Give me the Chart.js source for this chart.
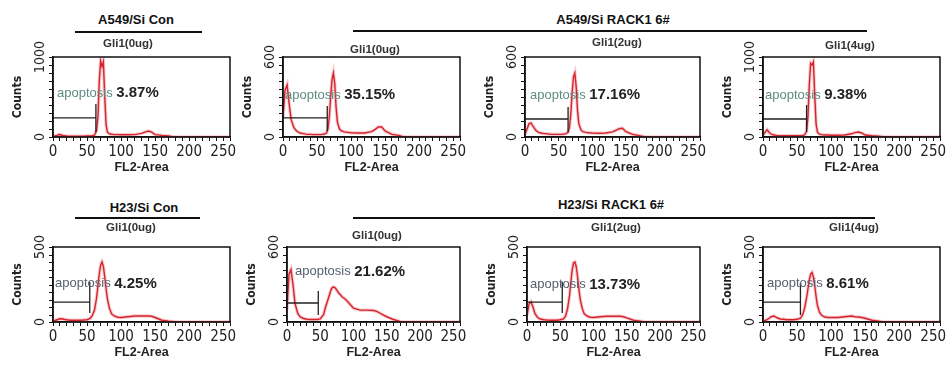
<!DOCTYPE html>
<html>
<head>
<meta charset="utf-8">
<script src="https://cdn.jsdelivr.net/npm/chart.js@4.4.0/dist/chart.umd.min.js"></script>
<style>
  body { margin: 0; background: #fff; width: 951px; height: 372px; position: relative; overflow: hidden;
         font-family: 'Liberation Sans', Arial, sans-serif; }
  canvas { position: absolute; }
  .t { position: absolute; transform: translate(-50%, -50%); white-space: nowrap; font-weight: bold; color: #111; }
  .rule { position: absolute; height: 2px; background: #111; }
</style>
</head>
<body>
<script>
// FL2-Area channels shared by all histograms
const channels = [0, 3, 6, 9, 12, 16, 20, 25, 30, 35, 40, 45, 50, 55, 58, 61, 64, 66, 68, 70, 72, 74, 76, 78, 80,
  83, 86, 90, 95, 100, 110, 120, 130, 135, 140, 145, 150, 160, 170, 175, 180, 200, 230, 260];

// counts per channel, one array per histogram
const a549Con = [5, 15, 20, 30, 25, 15, 12, 10, 10, 10, 10, 10, 12, 12, 15, 25, 80, 250, 700, 950, 880, 940, 500, 150, 60,
  40, 35, 30, 30, 28, 28, 30, 45, 60, 75, 60, 30, 20, 12, 5, 2, 0, 0, 0];
const a549Rack0 = [150, 350, 390, 250, 130, 70, 45, 30, 25, 20, 20, 18, 18, 18, 20, 22, 30, 60, 150, 300, 430, 480, 400, 220, 110,
  60, 45, 38, 35, 32, 30, 30, 40, 55, 75, 75, 45, 20, 12, 5, 0, 0, 0, 0];
const a549Rack2 = [20, 60, 100, 105, 80, 50, 35, 28, 25, 22, 20, 20, 20, 20, 22, 25, 35, 70, 170, 330, 450, 480, 380, 200, 100,
  55, 40, 35, 32, 30, 28, 30, 38, 50, 62, 65, 40, 20, 10, 5, 0, 0, 0, 0];
const a549Rack4 = [20, 60, 90, 60, 35, 25, 20, 15, 15, 15, 15, 15, 15, 15, 18, 25, 70, 250, 650, 920, 900, 940, 520, 160, 60,
  35, 30, 25, 25, 22, 22, 25, 40, 55, 62, 50, 25, 15, 10, 5, 0, 0, 0, 0];
const h23Con = [5, 10, 15, 20, 22, 18, 15, 12, 12, 12, 12, 13, 15, 25, 45, 80, 160, 240, 320, 380, 400, 370, 300, 220, 150,
  90, 55, 40, 32, 30, 35, 40, 40, 40, 40, 38, 30, 12, 5, 3, 0, 0, 0, 0];
const h23Rack0 = [100, 380, 420, 300, 150, 70, 40, 28, 22, 20, 20, 20, 25, 60, 120, 170, 220, 255, 275, 280, 275, 262, 245, 230, 220,
  200, 190, 170, 140, 110, 95, 95, 92, 85, 70, 55, 42, 20, 5, 0, 0, 0, 0, 0];
const h23Rack2 = [40, 120, 135, 100, 55, 30, 20, 15, 13, 12, 12, 12, 15, 20, 40, 90, 180, 270, 350, 395, 400, 370, 300, 220, 150,
  90, 55, 40, 32, 30, 35, 38, 38, 38, 38, 35, 28, 12, 5, 2, 0, 0, 0, 0];
const h23Rack4 = [5, 10, 15, 25, 35, 40, 30, 20, 18, 15, 15, 15, 18, 25, 45, 90, 160, 220, 280, 320, 330, 300, 240, 170, 110,
  65, 45, 35, 30, 30, 30, 35, 40, 35, 33, 30, 25, 12, 5, 2, 0, 0, 0, 0];

const histograms = [a549Con, a549Rack0, a549Rack2, a549Rack4, h23Con, h23Rack0, h23Rack2, h23Rack4];
const yMax = [1000, 600, 600, 1000, 500, 600, 500, 500];
const treatments = ['Gli1(0ug)', 'Gli1(0ug)', 'Gli1(2ug)', 'Gli1(4ug)', 'Gli1(0ug)', 'Gli1(0ug)', 'Gli1(2ug)', 'Gli1(4ug)'];
const apoptosisPct = ['3.87%', '35.15%', '17.16%', '9.38%', '4.25%', '21.62%', '13.73%', '8.61%'];

// apoptosis gate (M1 marker): level, right edge and its vertical bar
const gateLevel = [238, 143, 135, 225, 133, 152, 133, 133];
const gateEnd = [63, 65, 64, 64, 54, 47, 53, 55];
const gateTop = [413, 233, 225, 400, 267, 248, 267, 260];
const gateBottom = [63, 45, 38, 63, 60, 56, 60, 47];

// layout (pixels)
const plotBoxes = [[53, 57, 230, 137], [283, 57, 460, 137], [525, 57, 700, 137], [763, 57, 940, 137],
  [53, 247, 230, 322], [287, 247, 460, 322], [527, 247, 700, 322], [763, 247, 940, 322]];
const treatPos = [[128, 43], [375, 49], [617, 42], [850, 45], [131, 227], [377, 235], [616, 227], [854, 227]];
const labelPos = [[4, 0.45], [2, 0.475], [5, 0.475], [2, 0.475], [2, 0.49], [8, 0.33], [3, 0.5], [4, 0.49]];
const groups = [
  { text: 'A549/Si Con', x: 136, y: 19, x1: 75, x2: 202, ly: 31 },
  { text: 'A549/Si RACK1 6#', x: 613, y: 19, x1: 353, x2: 867, ly: 30 },
  { text: 'H23/Si Con', x: 144, y: 207, x1: 75, x2: 200, ly: 217 },
  { text: 'H23/Si RACK1 6#', x: 611, y: 204, x1: 353, x2: 875, ly: 217 },
];

const NARROW = "'Liberation Sans Narrow', 'DejaVu Sans Condensed', 'Liberation Sans', sans-serif";
const SANS = "'Liberation Sans', Arial, sans-serif";
const PAD_L = 45, PAD_T = 22, PAD_R = 10, PAD_B = 38;

const panelDecor = {
  id: 'panelDecor',
  afterDraw(chart, args, opts) {
    const { ctx, chartArea: a, scales: { y } } = chart;
    ctx.save();
    ctx.strokeStyle = '#111';
    ctx.lineWidth = 1.5;
    ctx.strokeRect(a.left, a.top, a.right - a.left, a.bottom - a.top);

    // minor ticks on the y axis
    ctx.lineWidth = 1;
    ctx.beginPath();
    for (let v = 0; v <= y.max + 0.1; v += y.max / 10) {
      const py = Math.round(y.getPixelForValue(v)) + 0.5;
      ctx.moveTo(a.left - 4, py);
      ctx.lineTo(a.left, py);
    }
    ctx.stroke();

    // rotated y tick labels
    ctx.fillStyle = '#222';
    ctx.font = '14px ' + NARROW;
    ctx.textAlign = 'center';
    ctx.textBaseline = 'middle';
    [0, y.max].forEach(v => {
      ctx.save();
      ctx.translate(a.left - 13, y.getPixelForValue(v));
      ctx.rotate(-Math.PI / 2);
      ctx.fillText(String(v), 0, 0);
      ctx.restore();
    });

    // apoptosis label
    const tx = a.left + opts.dx;
    const ty = a.top + (a.bottom - a.top) * opts.fy;
    ctx.textAlign = 'left';
    ctx.font = '13px ' + SANS;
    ctx.fillStyle = opts.row === 0 ? '#5e8c82' : '#56606e';
    ctx.fillText('apoptosis', tx, ty);
    const w = ctx.measureText('apoptosis ').width;
    ctx.font = 'bold 15px ' + SANS;
    ctx.fillStyle = '#222';
    ctx.fillText(opts.pct, tx + w, ty);
    ctx.restore();
  }
};

groups.forEach(g => {
  const t = document.createElement('div');
  t.className = 't';
  t.style.cssText = `left:${g.x}px;top:${g.y}px;font-size:13px;`;
  t.textContent = g.text;
  document.body.appendChild(t);
  const r = document.createElement('div');
  r.className = 'rule';
  r.style.cssText = `left:${g.x1}px;top:${g.ly}px;width:${g.x2 - g.x1}px;`;
  document.body.appendChild(r);
});

histograms.forEach((counts, i) => {
  const [L, T, R, B] = plotBoxes[i];
  const canvas = document.createElement('canvas');
  canvas.width = R - L + PAD_L + PAD_R;
  canvas.height = B - T + PAD_T + PAD_B;
  canvas.style.left = (L - PAD_L) + 'px';
  canvas.style.top = (T - PAD_T) + 'px';
  document.body.appendChild(canvas);

  const lab = document.createElement('div');
  lab.className = 't';
  lab.style.cssText = `left:${treatPos[i][0]}px;top:${treatPos[i][1]}px;font-size:11.5px;color:#333;`;
  lab.textContent = treatments[i];
  document.body.appendChild(lab);

  const points = channels.map((c, k) => ({ x: c, y: counts[k] }));
  const gate = [
    { x: 0, y: gateLevel[i] }, { x: gateEnd[i], y: gateLevel[i] },
    { x: gateEnd[i], y: gateTop[i] }, { x: gateEnd[i], y: gateBottom[i] }
  ];

  new Chart(canvas, {
    type: 'scatter',
    data: {
      datasets: [
        { data: gate, showLine: true, borderColor: '#222', borderWidth: 1.3, pointRadius: 0 },
        { data: points, showLine: true, borderColor: '#d6242c', borderWidth: 1.4, pointRadius: 0 },
        { data: points, showLine: true, borderColor: 'rgba(236,140,150,0.45)', borderWidth: 3.5, pointRadius: 0 },
      ]
    },
    options: {
      responsive: false,
      animation: false,
      layout: { padding: { top: PAD_T, right: PAD_R, left: 0, bottom: 0 } },
      plugins: {
        legend: { display: false },
        tooltip: { enabled: false },
        panelDecor: { dx: labelPos[i][0], fy: labelPos[i][1], pct: apoptosisPct[i], row: i < 4 ? 0 : 1 }
      },
      scales: {
        x: {
          type: 'linear', min: 0, max: 260,
          ticks: {
            stepSize: 10, autoSkip: false, maxRotation: 0, padding: 2, color: '#222',
            font: { family: NARROW, size: 15 },
            callback: v => (v % 50 === 0 && v <= 250 ? String(v) : '')
          },
          grid: { drawOnChartArea: false, tickLength: 4, color: '#111', tickWidth: 1 },
          border: { color: '#111', width: 1.5 },
          title: { display: true, text: 'FL2-Area', color: '#222', padding: 0, font: { family: SANS, size: 12.5, weight: 'bold' } },
          afterFit: s => { s.height = PAD_B; }
        },
        y: {
          min: 0, max: yMax[i],
          ticks: { display: false },
          grid: { display: false },
          border: { color: '#111', width: 1.5 },
          title: { display: true, text: 'Counts', color: '#222', padding: { top: 3, bottom: 0 }, font: { family: NARROW, size: 12, weight: 'bold' } },
          afterFit: s => { s.width = PAD_L; }
        }
      }
    },
    plugins: [panelDecor]
  });
});
</script>
</body>
</html>
